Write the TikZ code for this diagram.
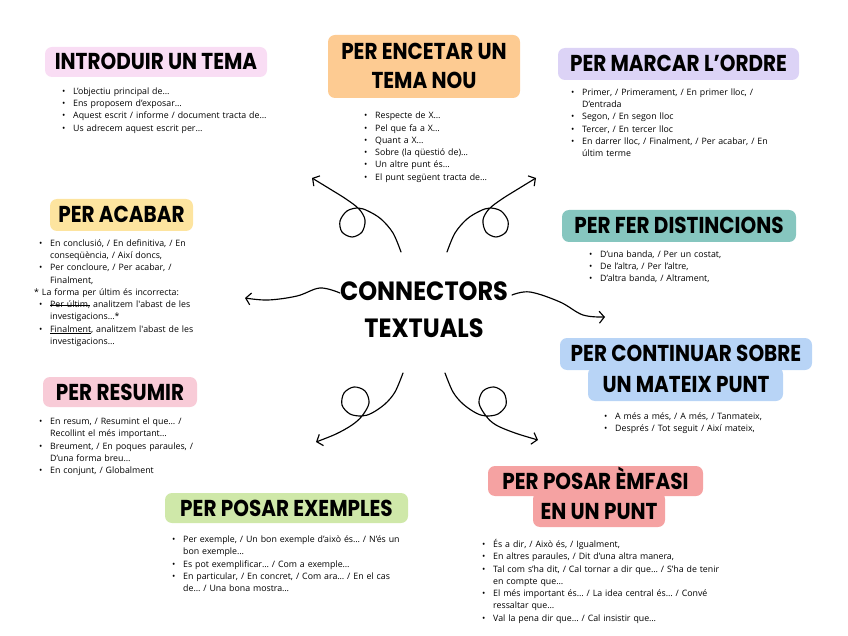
\documentclass[tikz,border=0pt]{standalone}
\usepackage{fontspec}
\setmainfont{Open Sans}
\newfontfamily\hfont{Poppins}
\usetikzlibrary{arrows.meta}
\definecolor{cIntro}{HTML}{F9DDF4}
\definecolor{cOrange}{HTML}{FDCB92}
\definecolor{cLav}{HTML}{DCD3F6}
\definecolor{cYel}{HTML}{FDE49F}
\definecolor{cTeal}{HTML}{86C6BF}
\definecolor{cBlue}{HTML}{B8D4F6}
\definecolor{cPink}{HTML}{F8CBD7}
\definecolor{cGreen}{HTML}{CFE8A9}
\definecolor{cSalmon}{HTML}{F5A2A2}
\newcommand{\bl}{\makebox[11pt][l]{•}}
\newcommand{\ind}{\hspace*{11pt}}
\newcommand{\tstretch}[1]{\scalebox{1}[1.15]{#1}}
\newsavebox{\mybx}
\newcommand{\strk}[1]{\leavevmode\sbox{\mybx}{#1}\rlap{\rule[2.6pt]{\wd\mybx}{0.5pt}}\usebox{\mybx}}
\newcommand{\undl}[1]{\leavevmode\sbox{\mybx}{#1}\rlap{\rule[-1.5pt]{\wd\mybx}{0.45pt}}\usebox{\mybx}}
\begin{document}
\begin{tikzpicture}[x=1pt,y=-1pt,
  ttl/.style={rounded corners=7pt, inner sep=0pt, font=\hfont\bfseries\fontsize{20}{24}\selectfont, text height=16pt, text depth=0pt},
  ttltxt/.style={inner sep=0pt, font=\hfont\bfseries\fontsize{20}{24}\selectfont, text height=16pt, text depth=0pt},
  pad/.style={rounded corners=7pt, inner sep=0pt},
  lst/.style={anchor=base west, inner sep=0pt, align=left, text width=280pt, font=\fontsize{8.8}{12.25}\selectfont},
  arr/.style={line width=1.15pt, line cap=round, line join=round, -{Straight Barb[length=5pt,width=12pt]}}]
\useasboundingbox (0,0) rectangle (848,636);

% center
\node[inner sep=0pt, font=\hfont\bfseries\fontsize{24}{37}\selectfont] (ctr1) at (424,291) {\scalebox{1}[1.1]{CONNECTORS}};
\node[inner sep=0pt, font=\hfont\bfseries\fontsize{24}{37}\selectfont] (ctr2) at (424,328) {\scalebox{1}[1.1]{TEXTUALS}};

% titles
\node[ttl, fill=cIntro, minimum width=222, minimum height=30] (t1) at (156,62) {\tstretch{INTRODUIR UN TEMA}};
\node[pad, fill=cOrange, minimum width=192, minimum height=63] (t2box) at (424,66.5) {};
\node[ttltxt] (t2a) at (424,52) {\tstretch{PER ENCETAR UN}};
\node[ttltxt] (t2b) at (424,81) {\tstretch{TEMA NOU}};
\node[ttl, fill=cLav, minimum width=241, minimum height=32] (t3) at (678.5,64) {\tstretch{PER MARCAR L’ORDRE}};
\node[ttl, fill=cYel, minimum width=143, minimum height=32] (t4) at (121.5,215) {\tstretch{PER ACABAR}};
\node[ttl, fill=cTeal, minimum width=234, minimum height=32] (t5) at (679,226) {\tstretch{PER FER DISTINCIONS}};
\node[pad, fill=cBlue, minimum width=252, minimum height=32] (t6top) at (686,354) {};
\node[pad, fill=cBlue, minimum width=195, minimum height=34] (t6bot) at (685.5,384) {};
\node[ttltxt] (t6a) at (686,353) {\tstretch{PER CONTINUAR SOBRE}};
\node[ttltxt] (t6b) at (686,384) {\tstretch{UN MATEIX PUNT}};
\node[ttl, fill=cPink, minimum width=154, minimum height=30] (t7) at (120,392) {\tstretch{PER RESUMIR}};
\node[ttl, fill=cGreen, minimum width=243, minimum height=30] (t8) at (286.5,508) {\tstretch{PER POSAR EXEMPLES}};
\node[pad, fill=cSalmon, minimum width=215, minimum height=30] (t9top) at (595.5,481) {};
\node[pad, fill=cSalmon, minimum width=132, minimum height=35] (t9bot) at (599,509.5) {};
\node[ttltxt] (t9a) at (595.5,481) {\tstretch{PER POSAR ÈMFASI}};
\node[ttltxt] (t9b) at (599,511) {\tstretch{EN UN PUNT}};

% lists
\node[lst] (l1) at (62,94.5) {\bl L’objectiu principal de…\\
\bl Ens proposem d’exposar…\\
\bl Aquest escrit / informe / document tracta de…\\
\bl Us adrecem aquest escrit per…};
\node[lst] (l2) at (364,119) {\bl Respecte de X…\\
\bl Pel que fa a X…\\
\bl Quant a X…\\
\bl Sobre (la qüestió de)…\\
\bl Un altre punt és…\\
\bl El punt següent tracta de…};
\node[lst] (l3) at (571,95.5) {\bl Primer, / Primerament, / En primer lloc, /\\
\ind D’entrada\\
\bl Segon, / En segon lloc\\
\bl Tercer, / En tercer lloc\\
\bl En darrer lloc, / Finalment, / Per acabar, / En\\
\ind últim terme};
\node[lst] (l4) at (39,246.5) {\bl En conclusió, / En definitiva, / En\\
\ind conseqüència, / Així doncs,\\
\bl Per concloure, / Per acabar, /\\
\ind Finalment,\\
\hspace*{-5pt}* La forma per últim és incorrecta:\\
\bl \strk{Per últim,} analitzem l\textquotesingle abast de les\\
\ind investigacions…*\\
\bl \undl{Finalment}, analitzem l\textquotesingle abast de les\\
\ind investigacions…};
\node[lst] (l5) at (589,257.5) {\bl D’una banda, / Per un costat,\\
\bl De l’altra, / Per l’altre,\\
\bl D’altra banda, / Altrament,};
\node[lst] (l6) at (604,419.5) {\bl A més a més, / A més, / Tanmateix,\\
\bl Després / Tot seguit / Així mateix,};
\node[lst] (l7) at (39,424.5) {\bl En resum, / Resumint el que… /\\
\ind Recollint el més important…\\
\bl Breument, / En poques paraules, /\\
\ind D’una forma breu…\\
\bl En conjunt, / Globalment};
\node[lst] (l8) at (172,542.5) {\bl Per exemple, / Un bon exemple d’això és… / N’és un\\
\ind bon exemple…\\
\bl Es pot exemplificar… / Com a exemple…\\
\bl En particular, / En concret, / Com ara… / En el cas\\
\ind de… / Una bona mostra…};
\node[lst] (l9) at (482,547.5) {\bl És a dir, / Això és, / Igualment,\\
\bl En altres paraules, / Dit d’una altra manera,\\
\bl Tal com s’ha dit, / Cal tornar a dir que… / S’ha de tenir\\
\ind en compte que…\\
\bl El més important és… / La idea central és… / Convé\\
\ind ressaltar que…\\
\bl Val la pena dir que… / Cal insistir que…};

% arrows
\coordinate (tlS) at (401,252); \coordinate (tlE) at (312,178);
\coordinate (trS) at (447,252); \coordinate (trE) at (536,178);
\coordinate (blS) at (403,373); \coordinate (blE) at (316,442);
\coordinate (brS) at (445,373); \coordinate (brE) at (538,440);
\coordinate (lS) at (340,293); \coordinate (lE) at (245,298);
\coordinate (rS) at (512,295); \coordinate (rE) at (605,317);

\draw[arr] plot[smooth, tension=0.55] coordinates {(tlS) (393,233) (381,219) (368,211) (358,208) (347,211) (340,221) (342,232) (352,237) (362,232) (365,220) (359,209) (346,199) (330,189) (tlE)};
\draw[arr] plot[smooth, tension=0.55] coordinates {(trS) (455,233) (467,219) (480,211) (490,208) (501,211) (508,221) (506,232) (496,237) (486,232) (483,220) (489,209) (502,199) (518,189) (trE)};
\draw[arr] plot[smooth, tension=0.55] coordinates {(blS) (395,392) (385,404) (372,413) (362,416) (350,414) (342,405) (344,393) (354,387) (365,391) (369,403) (362,416) (352,425) (336,434) (blE)};
\draw[arr] plot[smooth, tension=0.55] coordinates {(brS) (453,392) (463,404) (476,413) (486,416) (498,414) (506,405) (504,393) (494,387) (483,391) (479,403) (486,416) (496,425) (515,433) (brE)};
\draw[arr] plot[smooth, tension=0.6] coordinates {(lS) (320,288) (297,296) (268,300) (lE)};
\draw[arr] plot[smooth, tension=0.6] coordinates {(rS) (530,292) (560,302) (583,315) (rE)};
\end{tikzpicture}
\end{document}
